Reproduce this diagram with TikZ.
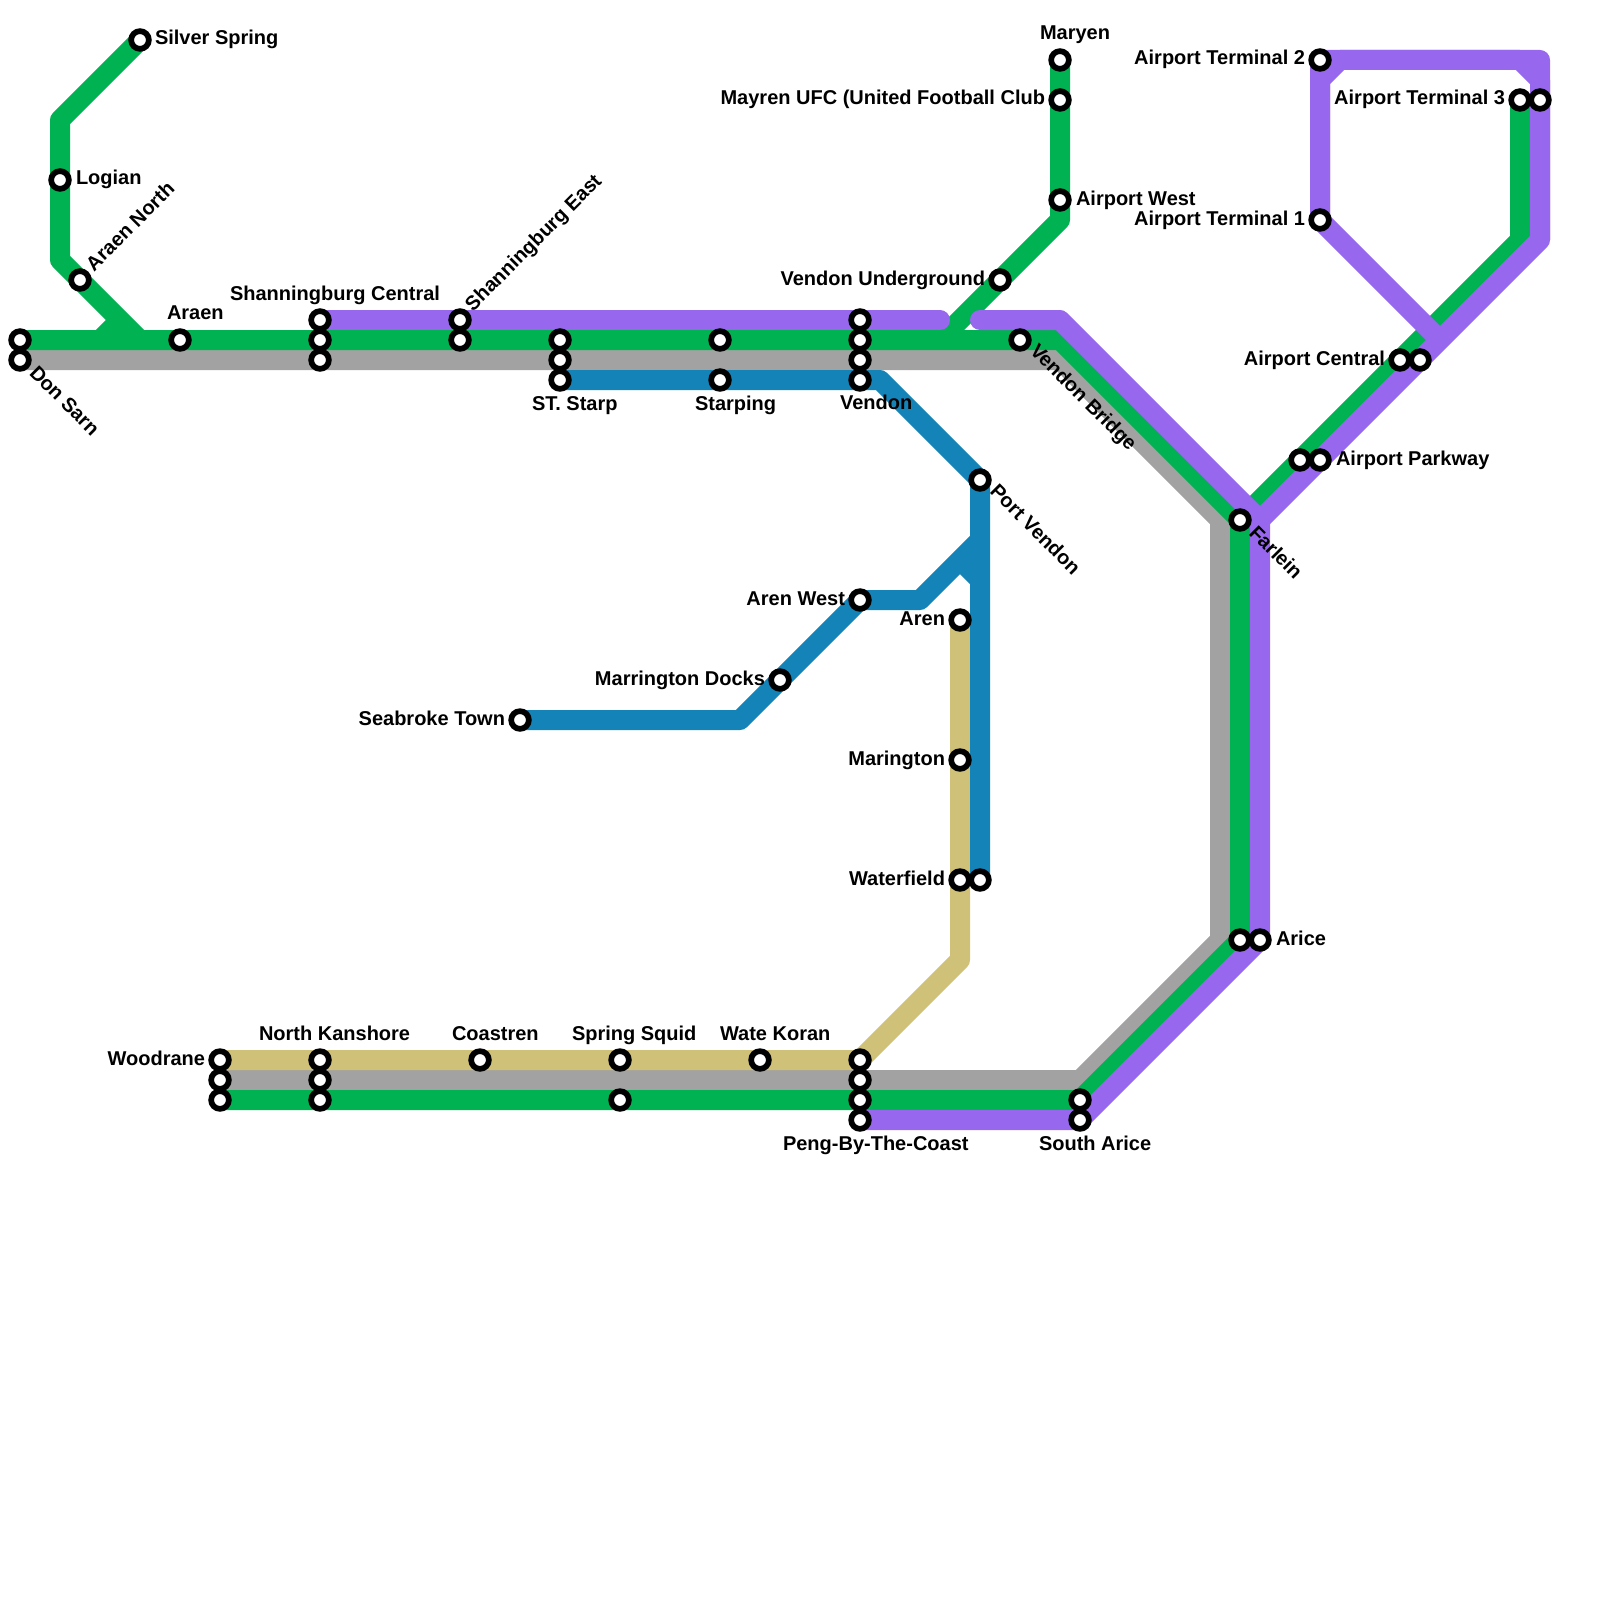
\documentclass[tikz,border=0pt]{standalone}
\usepackage{fontspec}
\setmainfont{Liberation Sans}
\definecolor{lgreen}{HTML}{00B251}
\definecolor{lpurple}{HTML}{9768EE}
\definecolor{lgray}{HTML}{A2A2A2}
\definecolor{lblue}{HTML}{1484B8}
\definecolor{lkhaki}{HTML}{CFC178}
\tikzset{
  route/.style={line width=20pt,line join=round,line cap=butt},
  roundroute/.style={route,line cap=round},
  stn/.style={circle,draw=black,fill=white,line width=5.7pt,minimum size=17.7pt,inner sep=0pt,outer sep=0pt},
  lbl/.style={inner sep=0pt,outer sep=0pt,text=black,font=\fontsize{20}{24}\selectfont\bfseries},
  lw/.style={lbl,anchor=base west},
  le/.style={lbl,anchor=base east},
  lup/.style={lbl,anchor=base west,rotate=45},
  ldn/.style={lbl,anchor=base west,rotate=-45},
}
\begin{document}
\begin{tikzpicture}[x=1pt,y=-1pt]
\useasboundingbox (0,0) rectangle (1600,1600);
% stations
\foreach \n/\x/\y in {
 silver/140/40, logian/60/180, araenn/80/280, dona/20/340, donb/20/360, araen/180/340,
 shca/320/320, shcb/320/340, shcc/320/360, shea/460/320, sheb/460/340,
 sta/560/340, stb/560/360, stc/560/380, spa/720/340, spb/720/380,
 vea/860/320, veb/860/340, vec/860/360, ved/860/380, vbr/1020/340,
 port/980/480, arw/860/600, aren/960/620, mdock/780/680, sea/520/720,
 mari/960/760, wfa/960/880, wfb/980/880,
 wda/220/1060, wdb/220/1080, wdc/220/1100, nka/320/1060, nkb/320/1080, nkc/320/1100,
 coa/480/1060, ssa/620/1060, ssb/620/1100, wat/760/1060,
 pea/860/1060, peb/860/1080, pec/860/1100, ped/860/1120, soa/1080/1100, sob/1080/1120,
 ara/1240/940, arb/1260/940, far/1240/520, ppa/1300/460, ppb/1320/460,
 aca/1400/360, acb/1420/360, t3a/1520/100, t3b/1540/100, t2/1320/60, t1/1320/220,
 awest/1060/200, vund/1000/280, mufc/1060/100, mary/1060/60}
 {\coordinate (\n) at (\x,\y);}
% bends
\foreach \n/\x/\y in {
 ga/60/120, gb/60/260, gc/140/340, gd/100/340, ge/120/320, gf/1060/340, gg/1240/940, gh/1080/1100,
 gi/1520/240, gj/940/340, gk/1060/220,
 ya/1060/360, yb/1220/520, yc/1220/940, yd/1080/1080,
 pa/940/320, pb/980/320, pc/1060/320, pd/1260/520, pe/1540/240, pf/1540/60, pg/1440/340,
 ph/1320/80, pi/1340/60, pj/1520/60, pk/1540/80,
 ba/880/380, bb/740/720, bc/920/600, bd/980/540, be/960/560, bf/980/580,
 ka/960/960}
 {\coordinate (\n) at (\x,\y);}
% gray
\draw[route,lgray] (donb) -- (ya) -- (yb) -- (yc) -- (yd) -- (wdb);
% khaki
\draw[route,lkhaki] (wda) -- (pea) -- (ka) -- (aren);
% green
\draw[route,lgreen] (silver) -- (ga) -- (gb) -- (gc);
\draw[route,lgreen] (gd) -- (ge);
\draw[route,lgreen] (dona) -- (gf) -- (far) -- (gg) -- (gh) -- (wdc);
\draw[route,lgreen] (far) -- (gi) -- (t3a);
\draw[route,lgreen] (gj) -- (gk) -- (mary);
% blue
\draw[route,lblue] (stc) -- (ba) -- (port) -- (wfb);
\draw[route,lblue] (sea) -- (bb) -- (arw) -- (bc) -- (bd);
\draw[route,lblue] (be) -- (bf);
% purple
\draw[roundroute,lpurple] (shca) -- (pa);
\draw[roundroute,lpurple] (pb) -- (pc) -- (pd) -- (arb) -- (sob) -- (ped);
\draw[route,lpurple] (pd) -- (pe) -- (pf) -- (t2) -- (t1) -- (pg);
\draw[route,lpurple] (t1) -- (ph) -- (pi) -- (pj) -- (pk) -- (pe);
% station markers
\foreach \n in {silver,logian,araenn,dona,donb,araen,shca,shcb,shcc,shea,sheb,sta,stb,stc,spa,spb,
 vea,veb,vec,ved,vbr,port,arw,aren,mdock,sea,mari,wfa,wfb,wda,wdb,wdc,nka,nkb,nkc,coa,ssa,ssb,wat,
 pea,peb,pec,ped,soa,sob,ara,arb,far,ppa,ppb,aca,acb,t3a,t3b,t2,t1,awest,vund,mufc,mary}
 {\node[stn] (st\n) at (\n) {};}
% labels
\node[lw] (l1) at (155,45) {Silver Spring};
\node[lw] (l2) at (76,184.5) {Logian};
\node[lup] (l3) at (94,272) {Araen North};
\node[ldn] (l4) at (28.5,374) {Don Sarn};
\node[lw] (l5) at (167,319.5) {Araen};
\node[lw] (l6) at (230,300) {Shanningburg Central};
\node[lup] (l7) at (473,312) {Shanningburg East};
\node[lw] (l8) at (532,410) {ST. Starp};
\node[lw] (l9) at (695,410) {Starping};
\node[lw] (l10) at (840,409) {Vendon};
\node[ldn] (l11) at (1029,352) {Vendon Bridge};
\node[ldn] (l12) at (989,492.5) {Port Vendon};
\node[ldn] (l13) at (1248,534) {Farlein};
\node[le] (l14) at (845,605) {Aren West};
\node[le] (l15) at (945,625) {Aren};
\node[le] (l16) at (765,685) {Marrington Docks};
\node[le] (l17) at (505,725) {Seabroke Town};
\node[le] (l18) at (945,765) {Marington};
\node[le] (l19) at (945,885) {Waterfield};
\node[le] (l20) at (205,1065) {Woodrane};
\node[lw] (l21) at (259,1040) {North Kanshore};
\node[lw] (l22) at (452,1040) {Coastren};
\node[lw] (l23) at (572,1040) {Spring Squid};
\node[lw] (l24) at (720,1040) {Wate Koran};
\node[lw] (l25) at (783,1150) {Peng-By-The-Coast};
\node[lw] (l26) at (1039,1150) {South Arice};
\node[lw] (l27) at (1276,945) {Arice};
\node[lw] (l28) at (1336,465) {Airport Parkway};
\node[le] (l29) at (1385,365) {Airport Central};
\node[le] (l30) at (1505,105) {Airport Terminal 3};
\node[le] (l31) at (1305,65) {Airport Terminal 2};
\node[le] (l32) at (1305,225) {Airport Terminal 1};
\node[lw] (l33) at (1076,205) {Airport West};
\node[le] (l34) at (985,285) {Vendon Underground};
\node[le] (l35) at (1045,105) {Mayren UFC (United Football Club};
\node[lw] (l36) at (1040,40) {Maryen};
\end{tikzpicture}
\end{document}
